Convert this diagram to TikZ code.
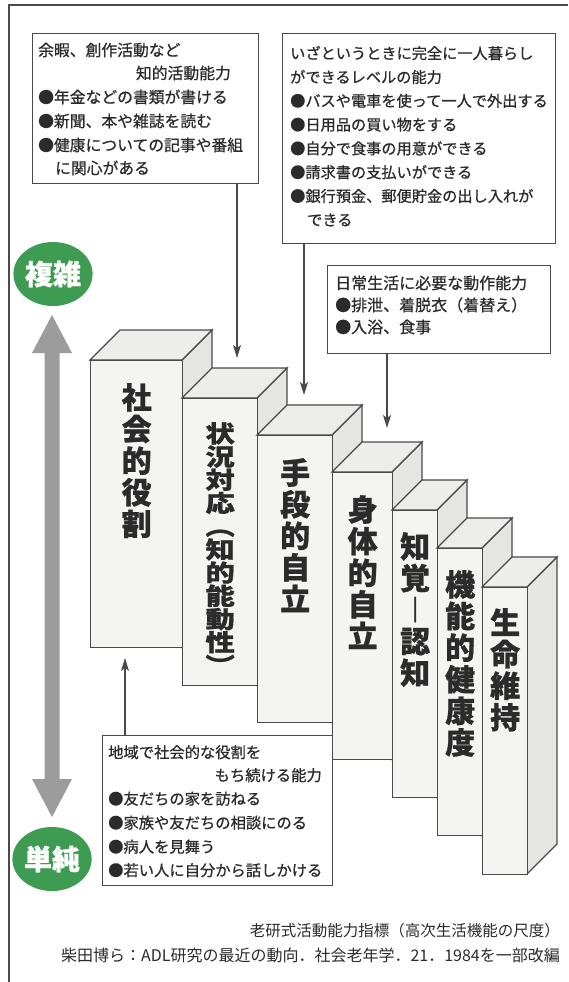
\documentclass[tikz,border=0pt]{standalone}
\usepackage{fontspec}
\newfontfamily\jp{Noto Sans CJK JP}
\newfontfamily\jpm{Noto Sans CJK JP}[FakeBold=0.7]
\newfontfamily\jpb{Noto Sans CJK JP}[BoldFeatures={FakeBold=0.8}]
\newfontfamily\jpw{Noto Sans CJK JP}[FakeStretch=1.25, BoldFeatures={FakeBold=0.8}]
\usetikzlibrary{arrows.meta,shapes.geometric}
\definecolor{ln}{HTML}{4A4A4A}
\definecolor{txt}{HTML}{2B2B2B}
\definecolor{frontc}{HTML}{F4F4F2}
\definecolor{topc}{HTML}{EDEDEB}
\definecolor{sidec}{HTML}{E5E5E3}
\definecolor{grn}{HTML}{3E9B52}
\definecolor{arrg}{HTML}{9C9C9C}
\newcommand\cubeblk[4]{%
  \filldraw[face, fill=sidec] (#3,#4) -- (#3+30,#4-30) -- (#3+30,#4+257) -- (#3,#4+287) -- cycle;
  \filldraw[face, fill=topc] (#2,#4) -- (#2+30,#4-30) -- (#3+30,#4-30) -- (#3,#4) -- cycle;
  \node[face, fill=frontc, anchor=north west, minimum width=#3-#2, minimum height=287, inner sep=0pt] (#1) at (#2,#4) {};
}
\tikzset{
  face/.style={draw=ln, line width=1.3pt, line join=miter},
  vlab/.style={anchor=north, align=center, inner sep=0pt, text=txt,
    font=\jpb\bfseries\fontsize{30}{31.6}\selectfont},
  vlabw/.style={anchor=north, align=center, inner sep=0pt, text=txt,
    font=\jpw\bfseries\fontsize{23.5}{23.2}\selectfont},
  box/.style={draw=ln, line width=1.3pt, fill=white, inner sep=0pt, anchor=north west},
  tl/.style={anchor=base west, inner sep=0pt, text=txt},
  tr/.style={anchor=base east, inner sep=0pt, text=txt},
  conn/.style={draw=ln, line width=1.2pt, -{Stealth[length=13pt,width=8pt,inset=3pt]}},
  glab/.style={ellipse, fill=grn, inner sep=0pt, minimum width=74pt, minimum height=64pt,
    text=white, font=\jpb\bfseries\fontsize{28}{28}\selectfont},
  captxt/.style={anchor=base east, inner sep=0pt, text=txt}
}
\newcommand\fa{\jpm\fontsize{15.8}{15.8}\selectfont}
\newcommand\fb{\jpm\fontsize{15.2}{15.2}\selectfont}
\newcommand\fc{\jpm\fontsize{16}{16}\selectfont}
\newcommand\fd{\jpm\fontsize{15.3}{15.3}\selectfont}
\lineskiplimit=-50pt
\begin{document}
\lineskiplimit=-50pt
\begin{tikzpicture}[x=1pt,y=-1pt]
\fill[white] (0,0) rectangle (568,982);
\useasboundingbox (0,0) rectangle (568,982);
% frame
\draw[ln, line width=2pt] (568,5) -- (9,5) -- (9,982);

% blocks
\cubeblk{K1}{90}{182}{360}
\cubeblk{K2}{182}{257}{398}
\cubeblk{K3}{257}{332}{435}
\cubeblk{K4}{332}{392}{472}
\cubeblk{K5}{392}{437}{510}
\cubeblk{K6}{437}{482}{548}
\cubeblk{K7}{482}{527}{587}

\node[vlab] (L1) at ([yshift=-23pt]K1.north) {社\\会\\的\\役\\割};
\node[vlabw] (L2) at ([yshift=-24pt]K2.north) {状\\況\\対\\応\\︵\\知\\的\\能\\動\\性\\︶};
\node[vlab] (L3) at ([yshift=-23pt]K3.north) {手\\段\\的\\自\\立};
\node[vlab] (L4) at ([yshift=-23pt]K4.north) {身\\体\\的\\自\\立};
\node[vlab] (L5) at ([yshift=-22pt]K5.north) {知\\覚\\︱\\認\\知};
\node[vlab] (L6) at ([yshift=-22pt]K6.north) {機\\能\\的\\健\\康\\度};
\node[vlab] (L7) at ([yshift=-21pt]K7.north) {生\\命\\維\\持};

% box A
\node[box, minimum width=226pt, minimum height=150pt] (A) at (32,33) {};
\node[tl, font=\fa] (A1) at (38,56) {余暇、創作活動など};
\node[tr, font=\fa] (A2) at (231,79) {知的活動能力};
\node[tl, font=\fa] (A3) at (38,103) {●年金などの書類が書ける};
\node[tl, font=\fa] (A4) at (38,127) {●新聞、本や雑誌を読む};
\node[tl, font=\fa] (A5) at (38,151) {●健康についての記事や番組};
\node[tl, font=\fa] (A6) at (55,174) {に関心がある};

% box B
\node[box, minimum width=273pt, minimum height=210pt] (B) at (282,33) {};
\node[tl, font=\fb] (B1) at (290,59) {いざというときに完全に一人暮らし};
\node[tl, font=\fb] (B2) at (290,82.8) {ができるレベルの能力};
\node[tl, font=\fb] (B3) at (290,106.6) {●バスや電車を使って一人で外出する};
\node[tl, font=\fb] (B4) at (290,130.4) {●日用品の買い物をする};
\node[tl, font=\fb] (B5) at (290,154.2) {●自分で食事の用意ができる};
\node[tl, font=\fb] (B6) at (290,178) {●請求書の支払いができる};
\node[tl, font=\fb] (B7) at (290,201.8) {●銀行預金、郵便貯金の出し入れが};
\node[tl, font=\fb] (B8) at (307,225.6) {できる};

% box C
\node[box, minimum width=223pt, minimum height=88pt] (C) at (327,265) {};
\node[tl, font=\fc] (C1) at (335,289) {日常生活に必要な動作能力};
\node[tl, font=\fc] (C2) at (335,311) {●排泄、着脱衣（着替え）};
\node[tl, font=\fc] (C3) at (335,333) {●入浴、食事};

% box D
\node[box, minimum width=230pt, minimum height=150pt] (D) at (102,735) {};
\node[tl, font=\fd] (D1) at (108,758) {地域で社会的な役割を};
\node[tr, font=\fd] (D2) at (322,781) {もち続ける能力};
\node[tl, font=\fd] (D3) at (108,804.5) {●友だちの家を訪ねる};
\node[tl, font=\fd] (D4) at (108,828.5) {●家族や友だちの相談にのる};
\node[tl, font=\fd] (D5) at (108,852.5) {●病人を見舞う};
\node[tl, font=\fd] (D6) at (108,876) {●若い人に自分から話しかける};

% connectors
\coordinate (tA) at (237,358);
\coordinate (tB) at (304,395);
\coordinate (tC) at (387,428);
\coordinate (tD) at (125,658);
\draw[conn] (A.south -| tA) -- (tA);
\draw[conn] (B.south -| tB) -- (tB);
\draw[conn] (C.south -| tC) -- (tC);
\draw[conn] (D.north -| tD) -- (tD);

% complexity arrow
\fill[arrg] (52,315) -- (72,353) -- (59.5,353) -- (59.5,779) -- (72,779) -- (52,817)
  -- (32,779) -- (44.5,779) -- (44.5,353) -- (32,353) -- cycle;
\node[glab] (G1) at (53,274) {複雑};
\node[glab] (G2) at (52,859) {単純};

% caption
\node[captxt, font=\jp\fontsize{15.5}{15.5}\selectfont] (T1) at (560,936) {老研式活動能力指標（高次生活機能の尺度）};
\node[captxt, font=\jp\fontsize{16}{16}\selectfont] (T2) at (560,961) {柴田博ら：ADL研究の最近の動向．社会老年学．21．1984を一部改編};
\end{tikzpicture}
\end{document}
